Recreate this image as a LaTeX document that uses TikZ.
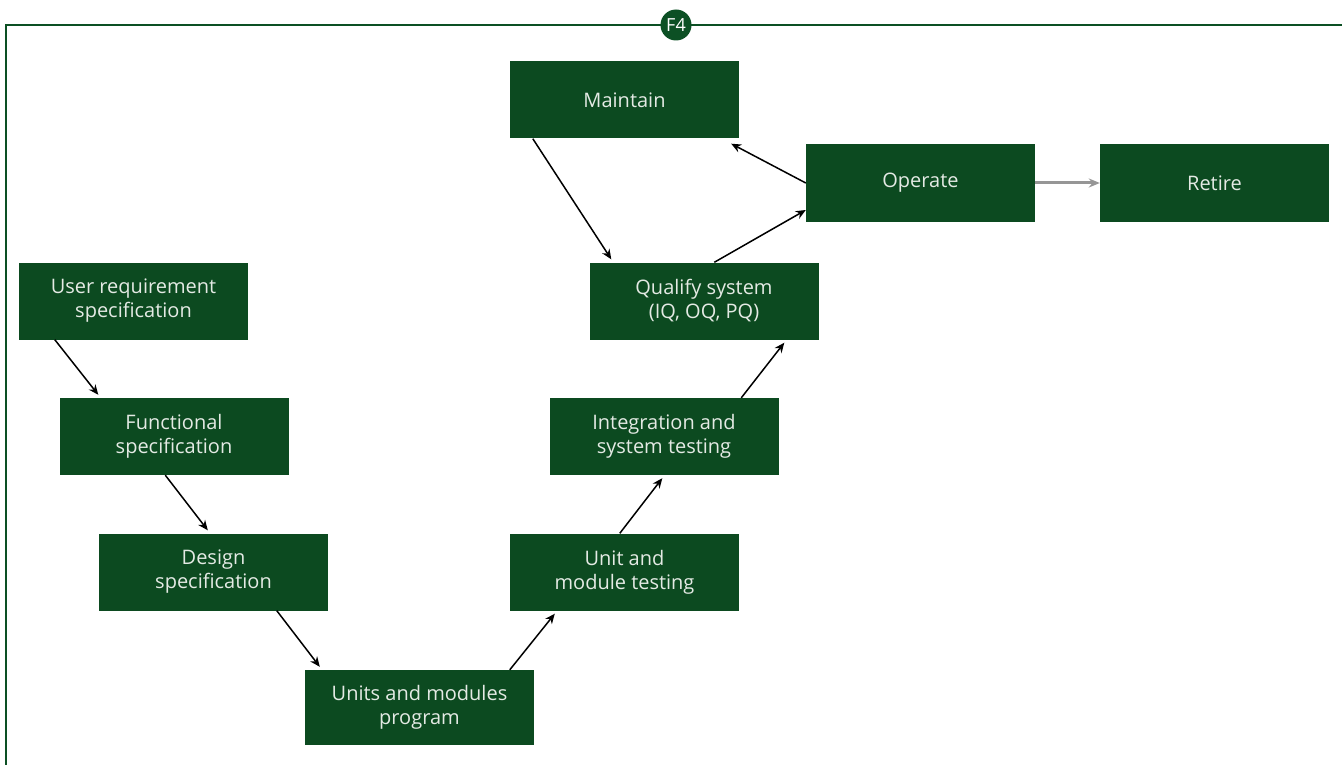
\documentclass[tikz,border=0pt]{standalone}
\usepackage{fontspec}
\setmainfont{Open Sans}
\usetikzlibrary{arrows.meta,calc}
\definecolor{boxgreen}{RGB}{12,74,32}
\definecolor{framegreen}{RGB}{12,80,36}
\definecolor{boxtext}{RGB}{228,234,228}
\definecolor{arrgray}{RGB}{150,150,150}
\begin{document}
\begin{tikzpicture}[x=1pt,y=-1pt,
  stagebox/.style={fill=boxgreen,minimum width=229pt,minimum height=77pt,inner sep=0pt,
    text=boxtext,align=center,font=\fontsize{20}{24}\selectfont},
  flow/.style={-{Stealth[length=10pt,width=8.5pt]},line width=1.5pt,black},
  grayflow/.style={-{Stealth[length=11pt,width=9pt]},line width=3pt,arrgray}]
\useasboundingbox (0,0) rectangle (1342,765);
\draw[framegreen,line width=2pt] (6,765) -- (6,25) -- (1342,25);
\node[circle,fill=framegreen,minimum size=31pt,inner sep=0pt,text=white,font=\fontsize{18}{18}\selectfont] (f4) at (676,25) {F4};
\node[stagebox] (maintain) at (624.5,100) {Maintain};
\node[stagebox] (operate) at (920.5,183) {Operate};
\node[stagebox] (retire) at (1214.5,183) {Retire};
\node[stagebox] (urs) at (133.5,301) {User requirement\\specification};
\node[stagebox] (qual) at (704,301) {Qualify system\\(IQ, OQ, PQ)};
\node[stagebox] (func) at (174,436.5) {Functional\\specification};
\node[stagebox] (integ) at (664,436.5) {Integration and\\system testing};
\node[stagebox] (design) at (213.5,572) {Design\\specification};
\node[stagebox] (unit) at (624.5,572) {Unit and\\module testing};
\node[stagebox,minimum height=75pt] (prog) at (419.5,707.5) {Units and modules\\program};
\draw[flow] ($(urs.south west)+(36,0)$) -- ($(func.north west)+(39,-3)$);
\draw[flow] ($(func.south west)+(106,0)$) -- ($(design.north west)+(109,-3)$);
\draw[flow] ($(design.south west)+(178,0)$) -- ($(prog.north west)+(15,-3)$);
\draw[flow] ($(prog.north west)+(205,0)$) -- ($(unit.south west)+(45,3)$);
\draw[flow] ($(unit.north west)+(110,0)$) -- ($(integ.south west)+(113,3)$);
\draw[flow] ($(integ.north west)+(192,0)$) -- ($(qual.south west)+(195,3)$);
\draw[flow] ($(qual.north west)+(125,0)$) -- ($(operate.west)+(0,27)$);
\draw[flow] (operate.west) -- ($(maintain.south east)+(-8,5)$);
\draw[flow] ($(maintain.south west)+(23,0)$) -- ($(qual.north west)+(22,-3)$);
\draw[grayflow] (operate.east) -- (retire.west);
\end{tikzpicture}
\end{document}
